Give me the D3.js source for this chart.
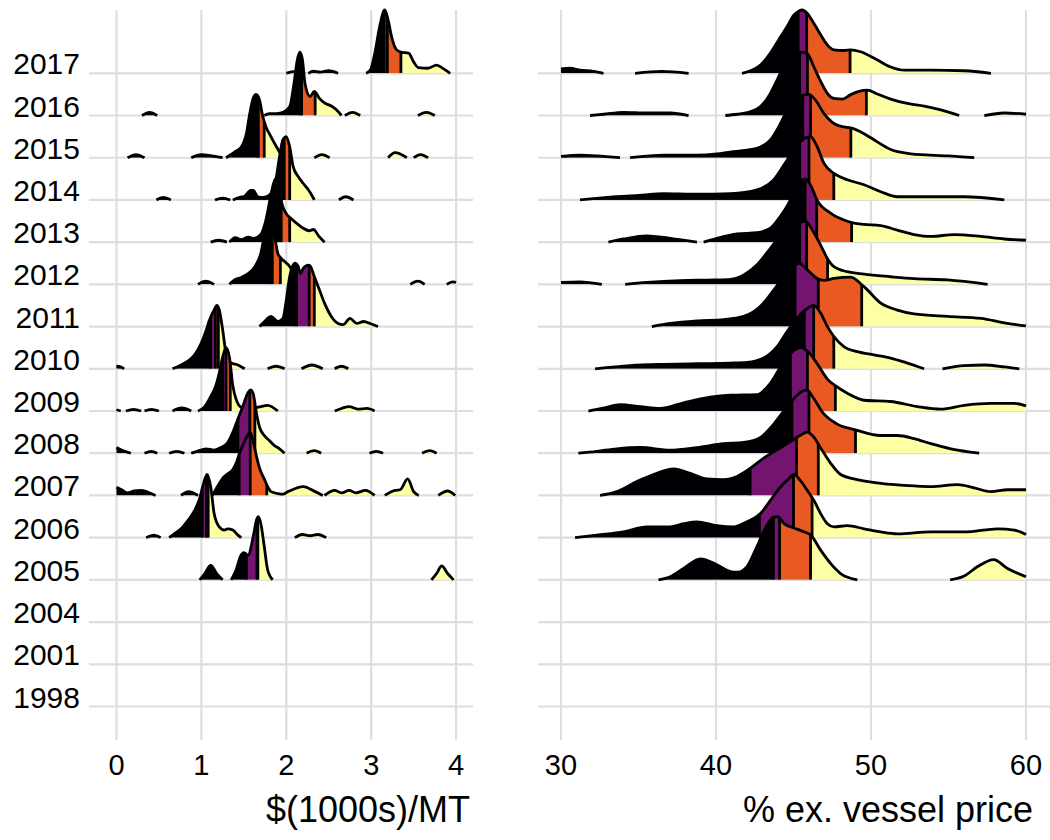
<!DOCTYPE html>
<html><head><meta charset="utf-8">
<script src="https://cdn.jsdelivr.net/npm/d3@7"></script>
<style>
body{margin:0;background:#fff;}
svg{display:block;}
text{font-family:"Liberation Sans",Arial,sans-serif;fill:#000;}
</style>
</head><body>
<svg id="chart" width="1050" height="840"></svg>
<script>
// ---------- categories & ticks ----------
const years = ["2017","2016","2015","2014","2013","2012","2011","2010","2009","2008","2007","2006","2005","2004","2001","1998"];
const priceTicks = [0, 1, 2, 3, 4];
const shareTicks = [30, 40, 50, 60];
const quartileColors = ["#000004", "#731470", "#E85A22", "#FCFFA4"];
const priceTitle = "$(1000s)/MT";
const shareTitle = "% ex. vessel price";

// ---------- quartiles: [year, q25, q50, q75] ----------
const priceQuartiles = [
  ["2017", 3.15, 3.19, 3.35], ["2016", 2.17, 2.18, 2.34], ["2015", 1.665, 1.67, 1.74],
  ["2014", 1.97, 1.975, 2.04], ["2013", 1.93, 1.94, 2.04], ["2012", 1.81, 1.835, 1.93],
  ["2011", 2.12, 2.27, 2.33], ["2010", 1.11, 1.165, 1.20], ["2009", 1.25, 1.29, 1.34],
  ["2008", 1.43, 1.57, 1.63], ["2007", 1.445, 1.575, 1.77], ["2006", 1.01, 1.06, 1.08],
  ["2005", 1.53, 1.655, 1.665]
];
const shareQuartiles = [
  ["2017", 45.3, 45.85, 48.65], ["2016", 45.4, 45.9, 49.7], ["2015", 45.6, 46.1, 48.7],
  ["2014", 45.4, 46.0, 47.6], ["2013", 45.75, 46.5, 48.75], ["2012", 45.4, 45.85, 47.2],
  ["2011", 45.1, 46.6, 49.4], ["2010", 45.7, 46.3, 47.6], ["2009", 44.8, 45.9, 47.7],
  ["2008", 44.9, 46.0, 49.0], ["2007", 42.2, 45.2, 46.6], ["2006", 42.8, 45.0, 46.2],
  ["2005", 43.7, 44.1, 46.1]
];

// ---------- density ridges ($1000s/MT): segments of [value, relative height] ----------
const price2017 = [
  [[2.00,0],[2.08,0.025],[2.16,0.02],[2.22,0]],
  [[2.26,0],[2.32,0.035],[2.40,0.02],[2.50,0.04],[2.61,0]],
  [[2.94,0],[2.99,0.05],[3.04,0.30],[3.10,0.74],[3.16,1.0],[3.20,0.84],[3.24,0.58],[3.30,0.37],[3.36,0.33],[3.44,0.32],[3.50,0.18],[3.555,0.09],[3.67,0.08],[3.77,0.13],[3.83,0.09],[3.93,0]]
];
const price2016 = [
  [[0.30,0],[0.39,0.05],[0.48,0]],
  [[1.74,0],[1.80,0.03],[1.88,0.03],[1.94,0.04],[2.04,0.14],[2.09,0.5],[2.13,0.88],[2.16,1.0],[2.19,0.88],[2.22,0.51],[2.28,0.3],[2.33,0.38],[2.39,0.27],[2.45,0.2],[2.53,0.15],[2.59,0.09],[2.65,0]],
  [[2.69,0],[2.78,0.05],[2.87,0]],
  [[3.55,0],[3.65,0.05],[3.75,0]]
];
const price2015 = [
  [[0.13,0],[0.23,0.05],[0.33,0]],
  [[0.88,0],[1.0,0.05],[1.12,0.03],[1.25,0]],
  [[1.29,0],[1.39,0.09],[1.47,0.17],[1.53,0.38],[1.57,0.7],[1.61,0.94],[1.645,1.0],[1.685,0.91],[1.72,0.67],[1.76,0.49],[1.80,0.38],[1.86,0.23],[1.92,0.09],[1.96,0]],
  [[2.33,0],[2.42,0.05],[2.51,0]],
  [[3.2,0],[3.28,0.08],[3.42,0]],
  [[3.5,0],[3.58,0.05],[3.67,0]]
];
const price2014 = [
  [[0.47,0],[0.55,0.04],[0.64,0]],
  [[1.16,0],[1.25,0.03],[1.34,0]],
  [[1.37,0],[1.45,0.04],[1.51,0.06],[1.58,0.15],[1.61,0.15],[1.665,0.05],[1.72,0.04],[1.78,0.06],[1.86,0.21],[1.92,0.68],[1.96,0.95],[2.0,1.0],[2.04,0.84],[2.08,0.53],[2.14,0.37],[2.20,0.26],[2.26,0.16],[2.31,0.05],[2.33,0]],
  [[2.62,0],[2.70,0.05],[2.79,0]]
];
const price2013 = [
  [[1.11,0],[1.2,0.03],[1.3,0]],
  [[1.33,0],[1.40,0.07],[1.47,0.04],[1.55,0.08],[1.62,0.06],[1.70,0.12],[1.76,0.35],[1.82,0.75],[1.87,1.0],[1.91,0.9],[1.95,0.6],[2.0,0.45],[2.05,0.38],[2.12,0.3],[2.2,0.22],[2.27,0.18],[2.32,0.2],[2.38,0.1],[2.45,0]]
];
const price2012 = [
  [[0.96,0],[1.05,0.05],[1.15,0]],
  [[1.33,0],[1.39,0.07],[1.47,0.11],[1.55,0.17],[1.63,0.28],[1.70,0.49],[1.74,0.75],[1.78,0.93],[1.81,1.0],[1.85,0.85],[1.90,0.49],[1.94,0.41],[1.98,0.36],[2.03,0.3],[2.08,0.2],[2.15,0.1],[2.22,0]],
  [[3.46,0],[3.55,0.05],[3.63,0]],
  [[3.89,0],[3.96,0.04],[4.0,0.03]]
];
const price2011 = [
  [[1.685,0],[1.744,0.08],[1.82,0.16],[1.90,0.08],[1.96,0.13],[2.0,0.42],[2.04,0.79],[2.10,1.0],[2.14,0.95],[2.165,0.84],[2.20,0.92],[2.26,0.97],[2.28,0.96],[2.33,0.79],[2.39,0.58],[2.45,0.37],[2.53,0.16],[2.61,0.05],[2.67,0.03],[2.75,0.13],[2.83,0.05],[2.91,0.08],[3.0,0.04],[3.08,0]]
];
const price2010 = [
  [[0,0.04],[0.04,0.035],[0.09,0]],
  [[0.66,0],[0.76,0.06],[0.84,0.12],[0.92,0.22],[1.0,0.41],[1.06,0.62],[1.09,0.75],[1.15,0.93],[1.18,1.0],[1.21,0.93],[1.25,0.62],[1.29,0.25],[1.35,0.09],[1.43,0.06],[1.51,0]],
  [[1.78,0],[1.88,0.04],[1.98,0]],
  [[2.18,0],[2.3,0.06],[2.43,0]],
  [[2.57,0],[2.65,0.04],[2.73,0]]
];
const price2009 = [
  [[0,0.02],[0.05,0]],
  [[0.11,0],[0.2,0.025],[0.29,0]],
  [[0.33,0],[0.41,0.025],[0.5,0]],
  [[0.66,0],[0.77,0.05],[0.88,0]],
  [[0.96,0],[1.04,0.07],[1.11,0.23],[1.17,0.4],[1.21,0.6],[1.25,0.85],[1.29,1.0],[1.33,0.85],[1.37,0.4],[1.41,0.18],[1.47,0.06],[1.55,0.04],[1.67,0.06],[1.78,0.09],[1.90,0]],
  [[2.57,0],[2.65,0.04],[2.74,0.07],[2.84,0.03],[2.95,0.04],[3.04,0]]
];
const price2008 = [
  [[0,0.09],[0.08,0.04],[0.17,0]],
  [[0.33,0],[0.41,0.03],[0.48,0]],
  [[0.62,0],[0.71,0.03],[0.8,0]],
  [[0.88,0],[0.95,0.03],[1.055,0.07],[1.15,0.05],[1.23,0.09],[1.31,0.17],[1.37,0.33],[1.43,0.54],[1.49,0.75],[1.55,0.96],[1.58,1.0],[1.61,0.94],[1.65,0.62],[1.685,0.41],[1.74,0.28],[1.80,0.2],[1.86,0.12],[1.92,0.07],[1.98,0]],
  [[2.24,0],[2.33,0.04],[2.41,0]],
  [[2.98,0],[3.06,0.03],[3.14,0]],
  [[3.6,0],[3.69,0.04],[3.77,0]]
];
const price2007 = [
  [[0,0.13],[0.06,0.09],[0.13,0.04],[0.21,0.07],[0.29,0.08],[0.37,0.05],[0.46,0]],
  [[0.76,0],[0.85,0.06],[0.96,0]],
  [[1.13,0],[1.19,0.14],[1.25,0.27],[1.31,0.34],[1.37,0.41],[1.41,0.51],[1.45,0.67],[1.49,0.8],[1.55,0.96],[1.575,1.0],[1.61,0.85],[1.65,0.61],[1.685,0.43],[1.744,0.25],[1.78,0.14],[1.82,0.06],[1.90,0.03],[1.96,0.02],[2.02,0.06],[2.2,0.14],[2.34,0.06],[2.43,0]],
  [[2.45,0],[2.57,0.08],[2.65,0.04],[2.74,0.08],[2.82,0.04],[2.93,0.08],[3.04,0]],
  [[3.16,0],[3.28,0.08],[3.34,0.09],[3.43,0.26],[3.50,0.06],[3.56,0]],
  [[3.79,0],[3.9,0.07],[3.99,0]]
];
const price2006 = [
  [[0.35,0],[0.44,0.04],[0.52,0]],
  [[0.62,0],[0.68,0.06],[0.76,0.14],[0.84,0.27],[0.92,0.43],[0.98,0.62],[1.02,0.83],[1.067,1.0],[1.11,0.8],[1.15,0.38],[1.21,0.17],[1.27,0.12],[1.31,0.14],[1.37,0.12],[1.43,0.04],[1.47,0]],
  [[2.1,0],[2.19,0.05],[2.28,0.03],[2.37,0.05],[2.47,0]]
];
const price2005 = [
  [[0.98,0],[1.04,0.1],[1.11,0.23],[1.18,0.1],[1.25,0]],
  [[1.35,0],[1.41,0.16],[1.46,0.37],[1.50,0.43],[1.55,0.39],[1.61,0.68],[1.65,0.95],[1.67,1.0],[1.70,0.89],[1.74,0.53],[1.78,0.16],[1.84,0]],
  [[3.71,0],[3.77,0.1],[3.83,0.22],[3.9,0.1],[3.97,0]]
];

// ---------- density ridges (% ex. vessel price) ----------
const share2017 = [
  [[30,0.07],[30.58,0.08],[31.23,0.05],[32.09,0.03],[32.74,0]],
  [[34.78,0],[36.5,0.03],[38.23,0]],
  [[41.68,0],[42.22,0.04],[42.87,0.13],[43.51,0.32],[44.05,0.53],[44.59,0.74],[45.02,0.92],[45.34,0.98],[45.56,1.0],[45.88,0.95],[46.31,0.79],[46.75,0.61],[47.18,0.45],[47.61,0.37],[48.25,0.36],[48.69,0.37],[49.33,0.34],[50.41,0.21],[51.27,0.1],[52.13,0.05],[53.86,0.05],[56.01,0.04],[57.74,0]]
];
const share2016 = [
  [[31.88,0],[32.74,0.02],[34.03,0.05],[35.54,0.04],[37.05,0.04],[38.23,0]],
  [[40.6,0],[41.36,0.02],[42.22,0.06],[42.87,0.14],[43.51,0.35],[43.94,0.56],[44.38,0.78],[44.9,0.94],[45.4,1.0],[45.88,0.98],[46.31,0.77],[46.75,0.54],[47.18,0.35],[47.61,0.27],[48.15,0.26],[48.69,0.33],[49.22,0.38],[49.76,0.4],[50.41,0.34],[51.27,0.26],[52.35,0.19],[53.43,0.15],[54.5,0.09],[55.69,0]],
  [[57.31,0],[58.6,0.04],[60,0.02]]
];
const share2015 = [
  [[30,0.02],[31.23,0.04],[32.31,0.03],[33.81,0]],
  [[34.46,0],[36.62,0.04],[38.77,0.04],[40.06,0.06],[40.93,0.09],[42.0,0.12],[42.87,0.17],[43.51,0.28],[44.05,0.49],[44.59,0.75],[45.02,0.91],[45.67,0.99],[45.99,1.0],[46.42,0.91],[46.96,0.7],[47.61,0.54],[48.15,0.49],[48.69,0.47],[49.55,0.38],[50.41,0.25],[51.27,0.13],[52.35,0.07],[53.86,0.04],[54.94,0.03],[56.66,0]]
];
const share2014 = [
  [[31.23,0],[33.38,0.05],[35.0,0.07],[36.62,0.1],[38.77,0.09],[40.93,0.1],[42.65,0.16],[43.73,0.32],[44.59,0.63],[45.24,0.87],[45.78,0.98],[46.1,1.0],[46.53,0.84],[46.96,0.58],[47.61,0.42],[48.47,0.32],[49.55,0.24],[50.63,0.13],[51.7,0.05],[53.86,0.05],[56.01,0.05],[58.6,0]]
];
const share2013 = [
  [[33.06,0],[34.03,0.05],[35.54,0.1],[37.05,0.06],[38.77,0]],
  [[39.2,0],[40.06,0.06],[41.36,0.13],[42.65,0.15],[43.51,0.22],[44.16,0.41],[44.7,0.62],[45.02,0.79],[45.45,0.97],[45.75,1.0],[46.1,0.9],[46.53,0.66],[47.39,0.46],[48.25,0.35],[48.9,0.3],[49.55,0.28],[50.63,0.26],[51.7,0.19],[52.78,0.12],[53.86,0.09],[55.37,0.12],[57.09,0.09],[58.6,0.05],[60,0.03]]
];
const share2012 = [
  [[30,0.03],[31.23,0.04],[32.63,0]],
  [[34.14,0],[35.54,0.03],[37.69,0.06],[39.85,0.07],[40.93,0.08],[41.79,0.15],[42.65,0.31],[43.51,0.57],[44.38,0.83],[45.02,0.94],[45.45,0.98],[45.78,1.0],[46.21,0.86],[46.75,0.62],[47.18,0.41],[47.61,0.28],[48.47,0.2],[49.55,0.16],[51.27,0.12],[52.78,0.09],[54.94,0.07],[57.52,0]]
];
const share2011 = [
  [[35.86,0],[37.05,0.05],[38.77,0.09],[40.5,0.11],[41.79,0.16],[42.87,0.32],[43.73,0.58],[44.38,0.79],[45.02,0.95],[45.35,1.0],[45.88,0.9],[46.53,0.76],[46.96,0.73],[47.61,0.76],[48.69,0.78],[49.55,0.63],[50.63,0.37],[51.7,0.26],[52.78,0.2],[54.94,0.16],[57.09,0.13],[58.6,0.06],[60,0.01]]
];
const share2010 = [
  [[32.2,0],[34.46,0.05],[36.62,0.07],[38.77,0.08],[40.93,0.09],[42.0,0.1],[43.08,0.17],[43.94,0.35],[44.59,0.59],[45.24,0.8],[45.67,0.91],[45.99,0.97],[46.31,1.0],[46.75,0.88],[47.18,0.67],[47.61,0.51],[48.25,0.35],[49.12,0.27],[50.19,0.22],[51.27,0.17],[52.35,0.09],[53.43,0]],
  [[54.61,0],[56.01,0.05],[57.31,0.06],[58.6,0.03],[59.57,0]]
];
const share2009 = [
  [[31.77,0],[32.8,0.05],[33.81,0.1],[35.11,0.07],[36.4,0.04],[37.91,0.13],[39.63,0.22],[40.93,0.25],[42.65,0.26],[43.51,0.44],[44.3,0.75],[44.9,0.93],[45.5,1.0],[46.0,0.92],[46.6,0.72],[47.2,0.5],[47.7,0.4],[48.47,0.28],[49.55,0.17],[51.27,0.15],[52.99,0.07],[54.5,0.03],[56.01,0.09],[57.74,0.12],[59.25,0.12],[60,0.08]]
];
const share2008 = [
  [[31.12,0],[32.31,0.03],[33.6,0.07],[35.11,0.09],[37.05,0.05],[38.77,0.09],[40.5,0.15],[41.79,0.17],[42.87,0.25],[43.73,0.46],[44.38,0.67],[44.91,0.83],[45.45,0.96],[45.88,1.0],[46.21,0.9],[46.96,0.62],[47.82,0.46],[49.0,0.37],[50.63,0.28],[51.7,0.28],[52.78,0.23],[53.86,0.15],[55.15,0.07],[56.98,0]]
];
const share2007 = [
  [[32.52,0],[33.6,0.06],[34.89,0.22],[36.19,0.35],[37.26,0.42],[38.34,0.35],[39.42,0.26],[40.5,0.25],[41.36,0.3],[42.22,0.43],[43.08,0.59],[43.94,0.72],[44.81,0.85],[45.45,0.95],[45.88,1.0],[46.31,0.92],[46.75,0.75],[47.39,0.51],[48.04,0.33],[48.9,0.26],[50.63,0.19],[52.78,0.15],[53.86,0.14],[55.58,0.17],[56.66,0.12],[57.74,0.06],[58.81,0.09],[60,0.09]]
];
const share2006 = [
  [[30.91,0],[32.31,0.04],[34.03,0.09],[35.54,0.17],[37.05,0.17],[37.91,0.22],[38.77,0.25],[40.06,0.19],[41.14,0.17],[42.0,0.25],[42.87,0.38],[43.51,0.59],[44.16,0.8],[44.7,0.93],[45.02,1.0],[45.45,0.9],[45.88,0.75],[46.31,0.59],[46.75,0.38],[47.18,0.22],[47.61,0.17],[48.47,0.19],[49.55,0.14],[50.63,0.09],[51.7,0.06],[53.86,0.09],[56.01,0.09],[58.17,0.14],[59.25,0.12],[60,0.05]]
];
const share2005 = [
  [[36.29,0],[37.05,0.05],[37.91,0.18],[38.99,0.33],[40.06,0.24],[40.93,0.13],[41.36,0.12],[42.0,0.21],[42.65,0.53],[43.3,0.87],[43.73,0.99],[43.99,1.0],[44.38,0.89],[45.02,0.82],[45.67,0.76],[46.1,0.71],[46.75,0.47],[47.39,0.26],[48.04,0.1],[49.12,0]],
  [[55.11,0],[56.01,0.06],[56.88,0.21],[57.91,0.32],[58.81,0.18],[60,0.05]]
];

const priceRidges = {"2017":price2017,"2016":price2016,"2015":price2015,"2014":price2014,"2013":price2013,"2012":price2012,"2011":price2011,"2010":price2010,"2009":price2009,"2008":price2008,"2007":price2007,"2006":price2006,"2005":price2005};
const shareRidges = {"2017":share2017,"2016":share2016,"2015":share2015,"2014":share2014,"2013":share2013,"2012":share2012,"2011":share2011,"2010":share2010,"2009":share2009,"2008":share2008,"2007":share2007,"2006":share2006,"2005":share2005};

// ---------- layout ----------
const svg = d3.select("#chart");
svg.append("rect").attr("width", 1050).attr("height", 840).attr("fill", "#fff");
const defs = svg.append("defs");

const y = d3.scalePoint().domain(years).range([73.3, 706.5]);
const ridgeH = d3.scaleLinear().domain([0, 1]).range([0, 1.5 * y.step()]);
const panelTop = 10, panelBottom = 740;
const gridColor = "#dedede";
const lineW = 2.8;

const panels = [
  {id: "price", x: d3.scaleLinear().domain([0, 4]).range([116.5, 456.1]), ticks: priceTicks,
   left: 89, right: 473, ridges: priceRidges, quart: priceQuartiles, title: priceTitle, titleX: 470},
  {id: "share", x: d3.scaleLinear().domain([30, 60]).range([561, 1026]), ticks: shareTicks,
   left: 538, right: 1050, ridges: shareRidges, quart: shareQuartiles, title: shareTitle, titleX: 1033}
];

panels.forEach(p => {
  const g = svg.append("g");
  // grid
  g.selectAll("line.v").data(p.ticks).join("line")
    .attr("x1", d => p.x(d)).attr("x2", d => p.x(d))
    .attr("y1", panelTop).attr("y2", panelBottom)
    .attr("stroke", gridColor).attr("stroke-width", 2.2);
  g.selectAll("line.h").data(years).join("line")
    .attr("x1", p.left).attr("x2", p.right)
    .attr("y1", d => y(d)).attr("y2", d => y(d))
    .attr("stroke", gridColor).attr("stroke-width", 2.2);

  const area = base => d3.area().x(d => p.x(d[0])).y0(base).y1(d => base - ridgeH(d[1])).curve(d3.curveMonotoneX);
  const line = base => d3.line().x(d => p.x(d[0])).y(d => base - ridgeH(d[1])).curve(d3.curveMonotoneX);
  const qMap = new Map(p.quart.map(r => [r[0], r.slice(1)]));

  years.forEach(yr => {
    const segs = p.ridges[yr];
    if (!segs) return;
    const base = y(yr);
    const dAll = segs.map(s => area(base)(s)).join("");
    const clipId = `clip-${p.id}-${yr}`;
    defs.append("clipPath").attr("id", clipId).append("path").attr("d", dAll);
    const q = qMap.get(yr);
    const bounds = [p.left - 20, ...q.map(v => p.x(v)), p.right + 20];
    const rg = g.append("g");
    const fillG = rg.append("g").attr("clip-path", `url(#${clipId})`);
    quartileColors.forEach((c, i) => {
      fillG.append("rect").attr("x", bounds[i]).attr("width", bounds[i + 1] - bounds[i])
        .attr("y", base - ridgeH(1) - 10).attr("height", ridgeH(1) + 10).attr("fill", c);
    });
    q.forEach(v => {
      fillG.append("line").attr("x1", p.x(v)).attr("x2", p.x(v))
        .attr("y1", base).attr("y2", base - ridgeH(1) - 10)
        .attr("stroke", "#000").attr("stroke-width", lineW);
    });
    segs.forEach(s => {
      rg.append("path").attr("d", line(base)(s)).attr("fill", "none")
        .attr("stroke", "#000").attr("stroke-width", lineW).attr("stroke-linejoin", "round");
    });
  });

  // tick labels
  g.selectAll("text.tick").data(p.ticks).join("text")
    .attr("x", d => p.x(d)).attr("y", 775).attr("text-anchor", "middle")
    .attr("font-size", 29).text(d => d);
  // title
  g.append("text").attr("x", p.titleX).attr("y", 822).attr("text-anchor", "end")
    .attr("font-size", 36).text(p.title);
});

// y axis labels
svg.append("g").selectAll("text").data(years).join("text")
  .attr("x", 80).attr("y", d => y(d) + 1).attr("text-anchor", "end")
  .attr("font-size", 30).text(d => d);
</script>
</body></html>
